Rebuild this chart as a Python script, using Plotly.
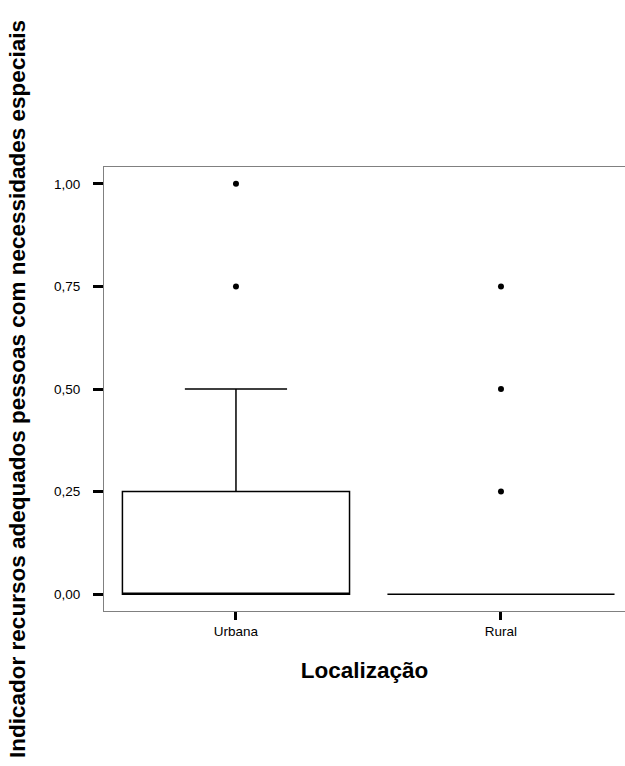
import plotly.graph_objects as go

categories = ["Urbana", "Rural"]
q1 = [0.0, 0.0]
median = [0.0, 0.0]
q3 = [0.25, 0.0]
lower_fence = [0.0, 0.0]
upper_fence = [0.50, 0.0]

outlier_cat = ["Urbana", "Urbana", "Rural", "Rural", "Rural"]
outlier_val = [1.00, 0.75, 0.75, 0.50, 0.25]

y_ticks = [0.0, 0.25, 0.50, 0.75, 1.00]

font_family = "Arial, Liberation Sans, sans-serif"

fig = go.Figure()
fig.add_trace(go.Box(
    x=categories, q1=q1, median=median, q3=q3,
    lowerfence=lower_fence, upperfence=upper_fence,
    width=0.857, whiskerwidth=0.45,
    line=dict(color="black", width=1.5),
    fillcolor="white", boxpoints=False, showlegend=False,
    hoverinfo="skip",
))
fig.add_trace(go.Scatter(
    x=outlier_cat, y=outlier_val, mode="markers",
    marker=dict(color="black", size=6, symbol="circle"),
    showlegend=False,
))

fig.update_layout(
    width=625, height=766,
    margin=dict(l=104, r=0, t=167, b=155),
    paper_bgcolor="white", plot_bgcolor="white",
    separators=",.",
    font=dict(family=font_family, color="black", size=13.5),
    xaxis=dict(
        range=[-0.498, 1.468], type="category",
        showline=True, linecolor="#808080", linewidth=1, mirror=True,
        showgrid=False, zeroline=False,
        ticks="outside", ticklen=8, tickwidth=3, tickcolor="black",
        tickfont=dict(size=13.5, family=font_family),
        title=dict(text="Localização", font=dict(size=22.5, family=font_family, weight="bold"), standoff=24),
    ),
    yaxis=dict(
        range=[-0.041, 1.041],
        tickvals=y_ticks, tickformat=".2f",
        showline=True, linecolor="#808080", linewidth=1, mirror=False,
        showgrid=False, zeroline=False,
        ticks="outside", ticklen=10, tickwidth=3, tickcolor="black",
        tickfont=dict(size=13.5, family=font_family),
        ticklabelstandoff=10,
        title=dict(text="Indicador recursos adequados pessoas com necessidades especiais",
                   font=dict(size=22.5, family=font_family, weight="bold"), standoff=22),
    ),
)

fig.write_html("out.html")
